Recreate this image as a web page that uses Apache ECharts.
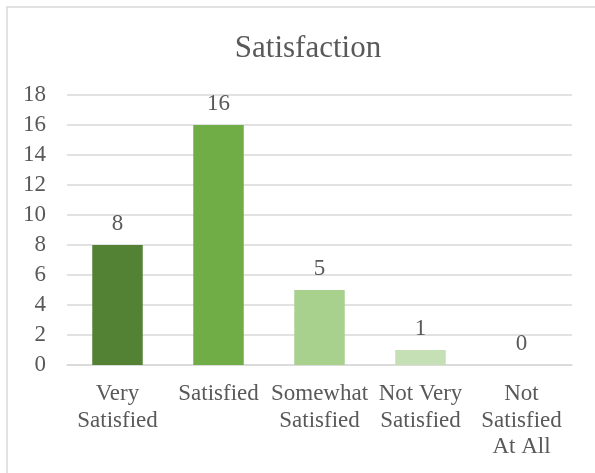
<!DOCTYPE html>
<html>
<head>
<meta charset="utf-8">
<script src="https://cdn.jsdelivr.net/npm/echarts@6/dist/echarts.min.js"></script>
<style>
  html, body { margin: 0; padding: 0; background: #fff; }
  #chart { width: 595px; height: 473px; }
</style>
</head>
<body>
<div id="chart"></div>
<script>
// Survey responses
const categories = ['Very\nSatisfied', 'Satisfied', 'Somewhat\nSatisfied', 'Not Very\nSatisfied', 'Not\nSatisfied\nAt All'];
const counts = [8, 16, 5, 1, 0];
const barColors = ['#548235', '#70AD47', '#A9D18E', '#C5E0B4', '#E2F0D9'];
const yTicks = { min: 0, max: 18, interval: 2 };

const textColor = '#595959';
const serif = '"Liberation Serif", "Times New Roman", serif';

const chart = echarts.init(document.getElementById('chart'), null, { renderer: 'canvas' });
chart.setOption({
  backgroundColor: '#ffffff',
  animation: false,
  graphic: [{
    type: 'rect',
    shape: { x: 7, y: 7, width: 700, height: 600 },
    style: { fill: 'none', stroke: '#D9D9D9', lineWidth: 1.5 },
    silent: true
  }],
  title: {
    text: 'Satisfaction',
    left: 303,
    top: 28,
    textAlign: 'center',
    textStyle: { fontFamily: serif, fontSize: 31, fontWeight: 'normal', color: textColor }
  },
  grid: { left: 67, right: 23, top: 95, bottom: 108, containLabel: false },
  xAxis: {
    type: 'category',
    data: categories,
    axisLine: { show: true, lineStyle: { color: '#D9D9D9', width: 1.5 } },
    axisTick: { show: false },
    axisLabel: {
      interval: 0,
      margin: 16,
      color: textColor,
      fontFamily: serif,
      fontSize: 23,
      lineHeight: 26.5
    }
  },
  yAxis: {
    type: 'value',
    min: yTicks.min,
    max: yTicks.max,
    interval: yTicks.interval,
    axisLine: { show: false },
    axisTick: { show: false },
    splitLine: { lineStyle: { color: '#D9D9D9', width: 1.5 } },
    axisLabel: { margin: 21, color: textColor, fontFamily: serif, fontSize: 23 }
  },
  series: [{
    type: 'bar',
    data: counts.map((v, i) => ({ value: v, itemStyle: { color: barColors[i] } })),
    barWidth: '50%',
    label: {
      show: true,
      position: 'top',
      distance: 10,
      color: textColor,
      fontFamily: serif,
      fontSize: 23
    }
  }]
});
</script>
</body>
</html>
